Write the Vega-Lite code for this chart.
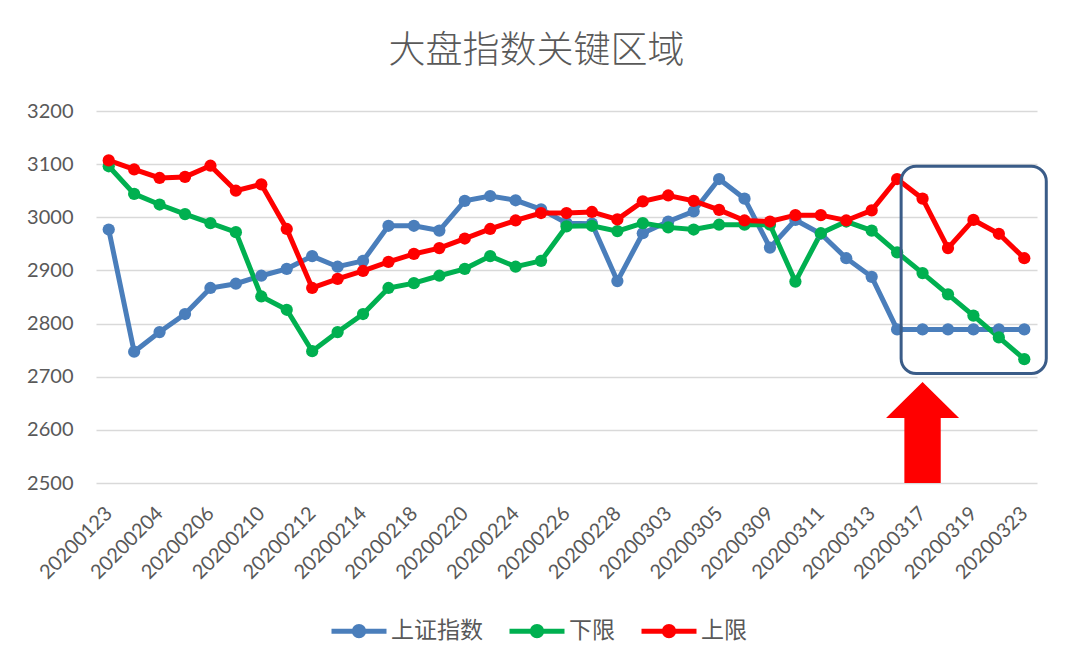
{
  "$schema": "https://vega.github.io/schema/vega-lite/v6.json",
  "width": 941,
  "height": 372,
  "autosize": {"type": "none"},
  "padding": {"left": 96, "top": 111, "right": 39, "bottom": 187},
  "background": "white",
  "config": {"view": {"stroke": null}, "font": "Lato"},
  "title": {
    "text": "大盘指数关键区域",
    "font": "Noto Sans CJK SC",
    "fontSize": 37,
    "fontWeight": 300,
    "color": "#595959",
    "anchor": "middle",
    "frame": "group",
    "baseline": "alphabetic",
    "offset": 1,
    "dx": -30
  },
  "datasets": {
    "index": [
      {"date": "20200123", "上证指数": 2977, "下限": 3096, "上限": 3107},
      {"date": "20200203", "上证指数": 2747, "下限": 3044, "上限": 3090},
      {"date": "20200204", "上证指数": 2784, "下限": 3024, "上限": 3074},
      {"date": "20200205", "上证指数": 2818, "下限": 3006, "上限": 3076},
      {"date": "20200206", "上证指数": 2867, "下限": 2989, "上限": 3097},
      {"date": "20200207", "上证指数": 2875, "下限": 2972, "上限": 3050},
      {"date": "20200210", "上证指数": 2890, "下限": 2851, "上限": 3062},
      {"date": "20200211", "上证指数": 2903, "下限": 2826, "上限": 2978},
      {"date": "20200212", "上证指数": 2927, "下限": 2748, "上限": 2867},
      {"date": "20200213", "上证指数": 2907, "下限": 2784, "上限": 2884},
      {"date": "20200214", "上证指数": 2918, "下限": 2818, "上限": 2899},
      {"date": "20200217", "上证指数": 2984, "下限": 2867, "上限": 2916},
      {"date": "20200218", "上证指数": 2984, "下限": 2876, "上限": 2931},
      {"date": "20200219", "上证指数": 2975, "下限": 2890, "上限": 2942},
      {"date": "20200220", "上证指数": 3031, "下限": 2903, "上限": 2960},
      {"date": "20200221", "上证指数": 3040, "下限": 2927, "上限": 2978},
      {"date": "20200224", "上证指数": 3032, "下限": 2907, "上限": 2994},
      {"date": "20200225", "上证指数": 3015, "下限": 2918, "上限": 3008},
      {"date": "20200226", "上证指数": 2989, "下限": 2983, "上限": 3008},
      {"date": "20200227", "上证指数": 2988, "下限": 2984, "上限": 3010},
      {"date": "20200228", "上证指数": 2880, "下限": 2974, "上限": 2996},
      {"date": "20200302", "上证指数": 2970, "下限": 2989, "上限": 3030},
      {"date": "20200303", "上证指数": 2992, "下限": 2981, "上限": 3041},
      {"date": "20200304", "上证指数": 3011, "下限": 2977, "上限": 3031},
      {"date": "20200305", "上证指数": 3072, "下限": 2986, "上限": 3014},
      {"date": "20200306", "上证指数": 3035, "下限": 2986, "上限": 2994},
      {"date": "20200309", "上证指数": 2943, "下限": 2986, "上限": 2992},
      {"date": "20200310", "上证指数": 2995, "下限": 2879, "上限": 3004},
      {"date": "20200311", "上证指数": 2969, "下限": 2970, "上限": 3004},
      {"date": "20200312", "上证指数": 2923, "下限": 2992, "上限": 2994},
      {"date": "20200313", "上证指数": 2888, "下限": 2975, "上限": 3013},
      {"date": "20200316", "上证指数": 2789, "下限": 2934, "上限": 3072},
      {"date": "20200317", "上证指数": 2789, "下限": 2895, "上限": 3035},
      {"date": "20200318", "上证指数": 2789, "下限": 2855, "上限": 2942},
      {"date": "20200319", "上证指数": 2789, "下限": 2815, "上限": 2995},
      {"date": "20200320", "上证指数": 2789, "下限": 2774, "上限": 2969},
      {"date": "20200323", "上证指数": 2789, "下限": 2733, "上限": 2923}
    ],
    "box": [
      {"start": "20200316", "end": "20200323", "low": 2706, "high": 3096}
    ],
    "arrow": [
      {"date": "20200317", "level": 2595}
    ]
  },
  "layer": [
    {
      "data": {"name": "index"},
      "transform": [
        {"fold": ["上证指数", "下限", "上限"], "as": ["series", "value"]}
      ],
      "layer": [
        {
          "mark": {"type": "line", "strokeWidth": 5},
          "encoding": {
            "x": {
              "field": "date",
              "type": "ordinal",
              "sort": "ascending",
              "scale": {"type": "point", "padding": 0.5},
              "axis": {
                "title": null,
                "values": ["20200123", "20200204", "20200206", "20200210", "20200212", "20200214", "20200218", "20200220", "20200224", "20200226", "20200228", "20200303", "20200305", "20200309", "20200311", "20200313", "20200317", "20200319", "20200323"],
                "labelAngle": -45,
                "labelAlign": "right",
                "labelBaseline": "middle",
                "labelPadding": 27,
                "labelFontSize": 20,
                "labelFont": "Lato",
                "labelColor": "#595959",
                "ticks": false,
                "domain": false,
                "grid": false
              }
            },
            "y": {
              "field": "value",
              "type": "quantitative",
              "scale": {"domain": [2500, 3200], "zero": false, "nice": false},
              "axis": {
                "title": null,
                "format": "d",
                "values": [2500, 2600, 2700, 2800, 2900, 3000, 3100, 3200],
                "grid": true,
                "gridColor": "#D9D9D9",
                "gridWidth": 1.3,
                "domain": false,
                "ticks": false,
                "labelPadding": 23,
                "labelFontSize": 20,
                "labelFont": "Lato",
                "labelColor": "#595959"
              }
            },
            "color": {
              "field": "series",
              "type": "nominal",
              "sort": ["上证指数", "下限", "上限"],
              "scale": {
                "domain": ["上证指数", "下限", "上限"],
                "range": ["#4A7EBB", "#00B050", "#FF0000"]
              },
              "legend": {
                "title": null,
                "orient": "none",
                "direction": "horizontal",
                "legendX": 233,
                "legendY": 490,
                "padding": 0,
                "columnPadding": 16,
                "labelOffset": 2,
                "labelFont": "Noto Sans CJK SC",
                "labelFontSize": 23,
                "labelColor": "#595959",
                "symbolType": "M-1,0L1,0M0.17,0A0.17,0.17,0,1,1,-0.17,0A0.17,0.17,0,1,1,0.17,0Z",
                "symbolSize": 3025,
                "symbolStrokeWidth": 5,
                "symbolOpacity": 1,
                "encode": {
                  "symbols": {
                    "update": {
                      "fill": {"scale": "color", "field": "value"},
                      "stroke": {"scale": "color", "field": "value"},
                      "strokeWidth": {"value": 5},
                      "opacity": {"value": 1}
                    }
                  }
                }
              }
            },
            "detail": {"field": "series"}
          }
        },
        {
          "mark": {"type": "point", "filled": true, "size": 150, "opacity": 1},
          "encoding": {
            "x": {"field": "date", "type": "ordinal", "sort": "ascending"},
            "y": {"field": "value", "type": "quantitative"},
            "color": {"field": "series", "type": "nominal", "sort": ["上证指数", "下限", "上限"]}
          }
        }
      ]
    },
    {
      "data": {"name": "box"},
      "mark": {
        "type": "rect",
        "fill": null,
        "fillOpacity": 0,
        "stroke": "#3A5C88",
        "strokeWidth": 3,
        "cornerRadius": 15,
        "xOffset": 4,
        "x2Offset": 22
      },
      "encoding": {
        "x": {"field": "start", "type": "ordinal"},
        "x2": {"field": "end"},
        "y": {"field": "high", "type": "quantitative"},
        "y2": {"field": "low"}
      }
    },
    {
      "data": {"name": "arrow"},
      "mark": {
        "type": "point",
        "shape": "M0,-1L0.723,-0.287L0.36,-0.287L0.36,1L-0.36,1L-0.36,-0.287L-0.723,-0.287Z",
        "filled": true,
        "color": "#FF0000",
        "opacity": 1,
        "size": 10201,
        "strokeWidth": 0
      },
      "encoding": {
        "x": {"field": "date", "type": "ordinal"},
        "y": {"field": "level", "type": "quantitative"}
      }
    }
  ]
}
